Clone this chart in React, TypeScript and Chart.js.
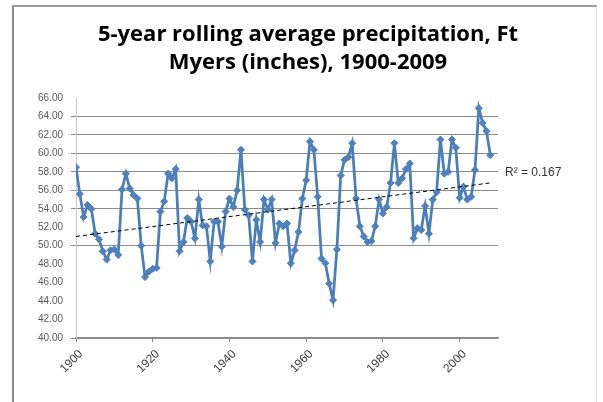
import React, { useEffect, useRef } from "react";
import { Chart, registerables } from "chart.js";

Chart.register(...registerables);

const titleLines = ["5-year rolling average precipitation, Ft", "Myers (inches), 1900-2009"];
const startYear = 1900;
const precip = [
  58.5, 55.6, 53.1, 54.4, 54.0, 51.3, 50.7, 49.4, 48.5, 49.5,
  49.6, 49.0, 56.1, 57.8, 56.2, 55.5, 55.1, 50.0, 46.6, 47.2,
  47.5, 47.6, 53.7, 54.8, 57.8, 57.3, 58.3, 49.4, 50.4, 53.0,
  52.6, 50.8, 55.0, 52.2, 52.1, 48.3, 52.6, 52.6, 49.9, 53.7,
  55.1, 54.2, 56.0, 60.4, 53.9, 53.3, 48.3, 52.8, 50.4, 55.0,
  53.9, 55.0, 50.3, 52.4, 52.1, 52.4, 48.1, 49.5, 51.5, 55.1,
  57.1, 61.3, 60.4, 55.3, 48.6, 48.1, 45.9, 44.1, 49.6, 57.6,
  59.3, 59.6, 61.1, 55.1, 52.1, 51.0, 50.4, 50.5, 52.1, 55.0,
  53.5, 54.2, 56.8, 61.1, 56.8, 57.3, 58.3, 58.9, 50.8, 51.9,
  51.7, 54.3, 51.3, 55.0, 55.8, 61.5, 57.8, 58.0, 61.5, 60.6,
  55.2, 56.4, 55.0, 55.3, 58.2, 64.9, 63.3, 62.4, 59.8,
];
const years = precip.map((_, i) => startYear + i);
const trendYears = [1900, 2008];
const trendValues = [51.0, 56.8];
const trendLabel = "R\u00B2 = 0.167";
const xTickValues = [1900, 1920, 1940, 1960, 1980, 2000];
const yTickValues = [40, 42, 44, 46, 48, 50, 52, 54, 56, 58, 60, 62, 64, 66];
const yGridVisible = [40, 50, 54, 56, 58, 60, 62, 64];

export default function App() {
  const ref = useRef<HTMLCanvasElement | null>(null);

  useEffect(() => {
    if (!ref.current) return;
    const r2Plugin = {
      id: "r2label",
      afterDraw(chart: any) {
        const ctx = chart.ctx;
        const y = chart.scales.y.getPixelForValue(trendValues[1]);
        ctx.save();
        ctx.font = '12px "Liberation Sans"';
        ctx.fillStyle = "#333333";
        ctx.textBaseline = "middle";
        ctx.textAlign = "left";
        ctx.fillText(trendLabel, chart.chartArea.right + 7, y - 10);
        ctx.restore();
      },
    };
    const chart = new Chart(ref.current, {
      type: "line",
      data: {
        datasets: [
          {
            label: "Linear trend",
            data: trendYears.map((x, i) => ({ x, y: trendValues[i] })),
            borderColor: "#000000",
            borderWidth: 1,
            borderDash: [4, 3],
            pointRadius: 0,
            fill: false,
            order: 0,
          },
          {
            label: "5-year rolling average",
            data: years.map((x, i) => ({ x, y: precip[i] })),
            borderColor: "#4A7EBB",
            backgroundColor: "#4F81BD",
            borderWidth: 2.75,
            pointStyle: "rectRot",
            pointRadius: 3.5,
            pointBorderColor: "#4A7EBB",
            pointBackgroundColor: "#4F81BD",
            pointBorderWidth: 1,
            tension: 0,
            fill: false,
            order: 1,
          },
        ],
      },
      options: {
        animation: false,
        responsive: false,
        devicePixelRatio: 1,
        layout: { padding: { left: 13, right: 0, top: 0, bottom: 0 } },
        plugins: {
          legend: { display: false },
          tooltip: { enabled: false },
          title: {
            display: true,
            text: titleLines,
            color: "#000000",
            font: { family: "Open Sans", size: 22, weight: "bold", lineHeight: 1.25 },
            padding: { top: 21, bottom: 22 },
          },
        },
        scales: {
          x: {
            type: "linear",
            min: 1900,
            max: 2010,
            afterBuildTicks: (s: any) => {
              s.ticks = xTickValues.map((v) => ({ value: v }));
            },
            afterFit: (s: any) => {
              s.height = 64;
            },
            grid: { drawOnChartArea: false, drawTicks: true, tickLength: 4, color: "#8c8c8c" },
            border: { color: "#8c8c8c", width: 1.5 },
            ticks: {
              minRotation: 45,
              maxRotation: 45,
              padding: 5,
              labelOffset: 5,
              color: "#404040",
              font: { family: "Liberation Sans", size: 12 },
              callback: (v: any) => String(v),
            },
          },
          y: {
            min: 40,
            max: 66,
            afterBuildTicks: (s: any) => {
              s.ticks = yTickValues.map((v) => ({ value: v }));
            },
            afterFit: (s: any) => {
              s.width = 63;
            },
            grid: {
              color: (c: any) => (yGridVisible.includes(c.tick?.value) ? "#8c8c8c" : "rgba(0,0,0,0)"),
              tickLength: 5,
              lineWidth: 1,
            },
            border: { color: "#c8c8c8", width: 1 },
            ticks: {
              padding: 8,
              color: "#595959",
              font: { family: "Liberation Sans", size: 10 },
              callback: (v: any) => Number(v).toFixed(2),
            },
          },
          y2: {
            position: "right",
            display: true,
            grid: { display: false },
            ticks: { display: false },
            border: { display: false },
            afterFit: (s: any) => {
              s.width = 105;
            },
          },
        },
      },
      plugins: [r2Plugin],
    });
    return () => chart.destroy();
  }, []);

  return (
    <div
      style={{
        position: "fixed",
        left: 0,
        top: 0,
        width: 603,
        height: 402,
        overflow: "hidden",
        background: "#ffffff",
      }}
    >
      <div
        style={{
          position: "absolute",
          left: 12,
          top: 5,
          width: 585,
          height: 420,
          boxSizing: "border-box",
          borderLeft: "2px solid #8a8a8a",
          borderTop: "2px solid #9a9a9a",
          borderRight: "1px solid #dadada",
        }}
      />
      <canvas
        ref={ref}
        width={603}
        height={402}
        style={{ position: "absolute", left: 0, top: 0, width: 603, height: 402 }}
      />
    </div>
  );
}
